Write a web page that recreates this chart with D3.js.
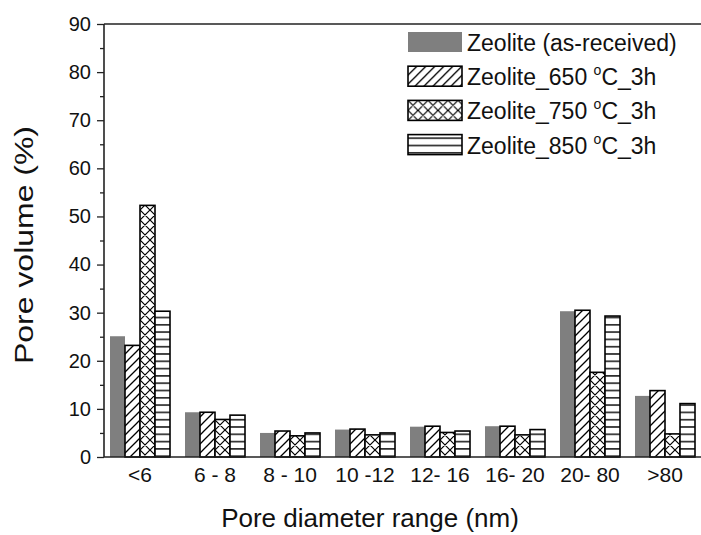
<!DOCTYPE html>
<html>
<head>
<meta charset="utf-8">
<script src="https://cdn.jsdelivr.net/npm/d3@7"></script>
<style>
  body { margin: 0; background: #fff; }
  text { font-family: "Liberation Sans", Arial, sans-serif; }
</style>
</head>
<body>
<div id="chart"></div>
<script>
// pore size ranges
var categories = ['<6', '6 - 8', '8 - 10', '10 -12', '12- 16', '16- 20', '20- 80', '>80']
var seriesNames = ['as', 't650', 't750', 't850']
var asReceived = [25.1, 9.3, 5.0, 5.7, 6.3, 6.4, 30.3, 12.7]
var zeo650 = [23.2, 9.3, 5.4, 5.8, 6.4, 6.4, 30.5, 13.8]
var zeo750 = [52.3, 7.8, 4.4, 4.6, 5.1, 4.6, 17.6, 4.8]
var zeo850 = [30.3, 8.7, 5.0, 5.0, 5.4, 5.7, 29.3, 11.1]
var yTicks = [0, 10, 20, 30, 40, 50, 60, 70, 80, 90]

var legendLabels = [
    ['Zeolite (as-received)'],
    ['Zeolite_650 ', 'o', 'C_3h'],
    ['Zeolite_750 ', 'o', 'C_3h'],
    ['Zeolite_850 ', 'o', 'C_3h']
]

var W = 701, H = 535
var mLeft = 104, mTop = 24, mBottom = 457, mRight = 710

var svg = d3.select('#chart').append('svg')
    .attr('width', W)
    .attr('height', H)

// hatch patterns
var defs = svg.append('defs')
var p1 = defs.append('pattern').attr('id', 'hatch').attr('patternUnits', 'userSpaceOnUse')
    .attr('width', 9).attr('height', 9)
p1.append('rect').attr('width', 9).attr('height', 9).attr('fill', '#fff')
p1.append('path').attr('d', 'M0,9 L9,0 M-3,3 L3,-3 M6,12 L12,6')
    .attr('stroke', '#000').attr('stroke-width', 1.3)

var p2 = defs.append('pattern').attr('id', 'cross').attr('patternUnits', 'userSpaceOnUse')
    .attr('width', 10).attr('height', 10)
p2.append('rect').attr('width', 10).attr('height', 10).attr('fill', '#fff')
p2.append('path').attr('d', 'M0,10 L10,0 M-3,3 L3,-3 M7,13 L13,7 M0,0 L10,10 M-3,7 L3,13 M7,-3 L13,3')
    .attr('stroke', '#000').attr('stroke-width', 1.2)

var p3 = defs.append('pattern').attr('id', 'horiz').attr('patternUnits', 'userSpaceOnUse')
    .attr('width', 10).attr('height', 7.3)
p3.append('rect').attr('width', 10).attr('height', 7.3).attr('fill', '#fff')
p3.append('path').attr('d', 'M0,3.6 L10,3.6')
    .attr('stroke', '#000').attr('stroke-width', 1.4)

var fills = {as: '#7f7f7f', t650: 'url(#hatch)', t750: 'url(#cross)', t850: 'url(#horiz)'}
var strokes = {as: 'none', t650: '#000', t750: '#000', t850: '#000'}

var x = d3.scaleBand()
    .domain(categories)
    .range([102.5, 702.5])
    .paddingInner(0.2)
    .paddingOuter(0.1)

var xs = d3.scaleBand()
    .domain(seriesNames)
    .range([0, x.bandwidth()])

var y = d3.scaleLinear()
    .domain([0, 90])
    .range([mBottom, mTop])

var rows = categories.map(function (c, i) {
    return {cat: c, vals: [
        {k: 'as', v: asReceived[i]},
        {k: 't650', v: zeo650[i]},
        {k: 't750', v: zeo750[i]},
        {k: 't850', v: zeo850[i]}
    ]}
})

var groups = svg.selectAll('.grp')
    .data(rows)
    .enter()
    .append('g')
    .attr('class', 'grp')
    .attr('transform', function (d) { return 'translate(' + x(d.cat) + ',0)' })

groups.selectAll('rect')
    .data(function (d) { return d.vals })
    .enter()
    .append('rect')
    .attr('x', function (d) { return xs(d.k) })
    .attr('y', function (d) { return y(d.v) })
    .attr('width', xs.bandwidth())
    .attr('height', function (d) { return y(0) - y(d.v) })
    .attr('fill', function (d) { return fills[d.k] })
    .attr('stroke', function (d) { return strokes[d.k] })
    .attr('stroke-width', 1.6)

// y axis with minor ticks
var yAxis = d3.axisLeft(y).tickValues(yTicks).tickSize(7).tickPadding(6)
var yg = svg.append('g').attr('transform', 'translate(' + mLeft + ',0)').call(yAxis)
yg.select('.domain').remove()
yg.selectAll('line').attr('stroke', '#222').attr('stroke-width', 1.3)
yg.selectAll('text').attr('font-size', 20).attr('fill', '#111')
    .attr('font-family', '"Liberation Sans", Arial, sans-serif')

var minor = d3.axisLeft(y).tickValues(d3.range(5, 90, 10)).tickSize(4).tickFormat('')
var mg = svg.append('g').attr('transform', 'translate(' + mLeft + ',0)').call(minor)
mg.select('.domain').remove()
mg.selectAll('line').attr('stroke', '#222').attr('stroke-width', 1.3)

// frame
svg.append('line').attr('x1', mLeft).attr('x2', mLeft).attr('y1', mTop).attr('y2', mBottom)
    .attr('stroke', '#222').attr('stroke-width', 1.6)
svg.append('line').attr('x1', mLeft).attr('x2', mRight).attr('y1', mBottom).attr('y2', mBottom)
    .attr('stroke', '#222').attr('stroke-width', 1.6)
svg.append('line').attr('x1', mLeft).attr('x2', mRight).attr('y1', mTop).attr('y2', mTop)
    .attr('stroke', '#222').attr('stroke-width', 1.6)

// category labels
var xAxis = d3.axisBottom(x).tickSize(0).tickPadding(10)
var xg = svg.append('g').attr('transform', 'translate(0,' + mBottom + ')').call(xAxis)
xg.select('.domain').remove()
xg.selectAll('text').attr('font-size', 21).attr('fill', '#111')
    .attr('font-family', '"Liberation Sans", Arial, sans-serif')

// axis titles
svg.append('text')
    .attr('x', 370).attr('y', 527)
    .attr('text-anchor', 'middle')
    .attr('font-size', 26)
    .attr('fill', '#111')
    .text('Pore diameter range (nm)')

svg.append('text')
    .attr('transform', 'translate(33,245) rotate(-90)')
    .attr('text-anchor', 'middle')
    .attr('font-size', 26)
    .attr('textLength', 238)
    .attr('lengthAdjust', 'spacingAndGlyphs')
    .attr('fill', '#111')
    .text('Pore volume (%)')

// legend
var leg = svg.append('g').attr('transform', 'translate(408,32)')
var legItems = leg.selectAll('.li')
    .data(seriesNames)
    .enter()
    .append('g')
    .attr('class', 'li')
    .attr('transform', function (d, i) { return 'translate(0,' + (i * 34.2) + ')' })

legItems.append('rect')
    .attr('width', 54)
    .attr('height', 20)
    .attr('fill', function (d) { return fills[d] })
    .attr('stroke', function (d) { return strokes[d] })
    .attr('stroke-width', 1.6)

legItems.append('text')
    .attr('x', 59)
    .attr('y', 19)
    .attr('font-size', 23)
    .attr('fill', '#111')
    .each(function (d, i) {
        var t = d3.select(this)
        legendLabels[i].forEach(function (s, j) {
            var ts = t.append('tspan').text(s)
            if (s === 'o') ts.attr('font-size', 14).attr('dy', -10)
            if (j === 2) ts.attr('dy', 10)
        })
    })
</script>
</body>
</html>
